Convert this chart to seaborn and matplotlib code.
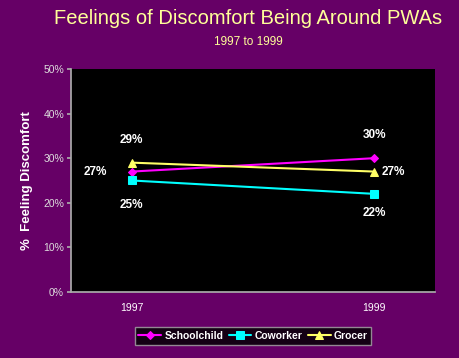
import matplotlib
matplotlib.use("Agg")
import matplotlib.pyplot as plt
import seaborn as sns
import pandas as pd

years = ["1997", "1999"]
schoolchild = [27, 30]
coworker = [25, 22]
grocer = [29, 27]
series_names = ["Schoolchild", "Coworker", "Grocer"]

rows = []
for name, vals in zip(series_names, [schoolchild, coworker, grocer]):
    for y, v in zip(years, vals):
        rows.append({"Year": y, "Value": v, "Series": name})
df = pd.DataFrame(rows)

sns.set_theme(style="white")
plt.rcParams['font.family'] = ['Liberation Sans', 'DejaVu Sans']

bg = "#660066"
fig = plt.figure(figsize=(4.6, 3.58), dpi=100, facecolor=bg)
ax = fig.add_axes([0.1543, 0.1844, 0.7914, 0.6229])
ax.set_facecolor("black")

palette = {"Schoolchild": "#FF00FF", "Coworker": "#00FFFF", "Grocer": "#FFFF66"}
markers = {"Schoolchild": "D", "Coworker": "s", "Grocer": "^"}
sns.lineplot(data=df, x="Year", y="Value", hue="Series", style="Series",
             palette=palette, markers=markers, dashes=False, ax=ax,
             linewidth=1.5, markersize=6, markeredgecolor=None, legend=True)
for line in ax.lines:
    line.set_markeredgecolor(line.get_color())
    if line.get_marker() == "D":
        line.set_markersize(4.5)

ax.set_ylim(0, 50)
ax.set_xlim(-0.25, 1.25)
ax.set_yticks([0, 10, 20, 30, 40, 50])
ax.set_yticklabels([f"{v}%" for v in range(0, 51, 10)], color="#DDDDDD", fontsize=7.5)
ax.set_xticks([0, 1])
ax.set_xticklabels(years, color="white", fontsize=7.5)
ax.tick_params(axis="y", length=3, color="#AAAAAA", left=True, pad=2)
ax.tick_params(axis="x", length=0, pad=8)
ax.set_xlabel("")
ax.set_ylabel("%  Feeling Discomfort", color="white", fontsize=9.5, fontweight="bold", labelpad=7)

for s in ["top", "right"]:
    ax.spines[s].set_visible(False)
ax.spines["left"].set_color("#AAAAAA")
ax.spines["bottom"].set_color("#AAAAAA")

lbl = dict(color="white", fontsize=8.5, fontweight="bold", ha="center", va="center")
ax.annotate(f"{schoolchild[0]}%", (0, schoolchild[0]), xytext=(-26, 0), textcoords="offset points", **lbl)
ax.annotate(f"{schoolchild[1]}%", (1, schoolchild[1]), xytext=(0, 17), textcoords="offset points", **lbl)
ax.annotate(f"{grocer[0]}%", (0, grocer[0]), xytext=(0, 16), textcoords="offset points", **lbl)
ax.annotate(f"{grocer[1]}%", (1, grocer[1]), xytext=(14, 0), textcoords="offset points", **lbl)
ax.annotate(f"{coworker[0]}%", (0, coworker[0]), xytext=(0, -18), textcoords="offset points", **lbl)
ax.annotate(f"{coworker[1]}%", (1, coworker[1]), xytext=(0, -14), textcoords="offset points", **lbl)

handles, labels = ax.get_legend_handles_labels()
leg = ax.legend(handles, labels, loc="upper center", bbox_to_anchor=(0.5, -0.135),
                ncol=3, frameon=True, fontsize=7.5, handlelength=2.2, handletextpad=0.3,
                columnspacing=0.5, borderpad=0.35, fancybox=False)
leg.get_frame().set_facecolor("black")
leg.get_frame().set_edgecolor("#AAAAAA")
for t in leg.get_texts():
    t.set_color("white")
    t.set_fontweight("bold")

fig.text(0.54, 0.947, "Feelings of Discomfort Being Around PWAs", color="#FFFF99",
         fontsize=14.5, ha="center", va="center")
fig.text(0.54, 0.884, "1997 to 1999", color="#FFFF99", fontsize=8.5, ha="center", va="center")

fig.savefig("out.png", dpi=100, facecolor=bg)
